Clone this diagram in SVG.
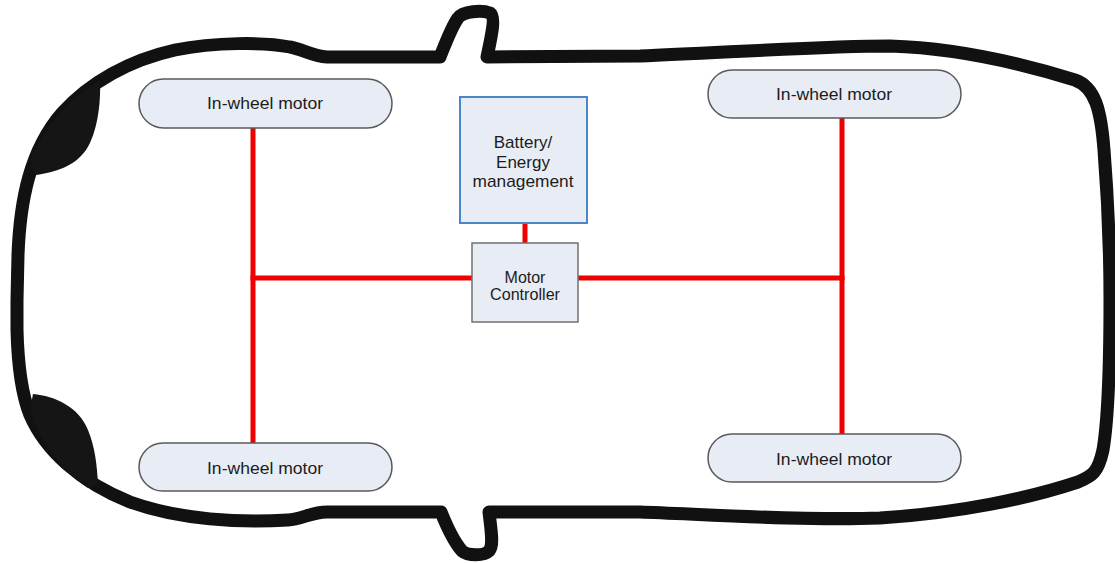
<svg xmlns="http://www.w3.org/2000/svg" width="1115" height="563" viewBox="0 0 1115 563">
  <style>
    .body { fill: none; stroke: #111; stroke-width: 13; stroke-linejoin: round; stroke-linecap: round; }
    .wheel { fill: #151515; }
    .pill { fill: #e8ecf5; stroke: #595959; stroke-width: 1.5; }
    .battery { fill: #e8ecf5; stroke: #4a86c8; stroke-width: 2; }
    .ctrl { fill: #e8ecf4; stroke: #707070; stroke-width: 1.5; }
    .lbl { font-family: "Liberation Sans", Arial, sans-serif; font-size: 17px; fill: #1c1c1c; text-anchor: middle; }
    .small { font-size: 16px; }
    .wire { stroke: #ee0000; stroke-width: 5; fill: none; }
  </style>
  <rect width="1115" height="563" fill="#fff"/>

  <!-- car body, seen from above -->
  <g id="car-body">
    <path class="body" d="M 17,300 L 18,255 C 20,200 30,150 62,113 C 90,82 130,60 175,50 C 215,42 265,42 290,47 C 302,49 312,56 327,57 L 440,57 C 446,42 452,26 458,18 C 463,11 482,10 490,13 C 496,17 491,38 487,57 L 640,56 C 720,53 820,46 890,46 C 960,48 1030,66 1075,80 C 1095,87 1101,110 1104,150 C 1108,200 1110,250 1110,300 C 1110,360 1108,420 1103,450 C 1098,473 1092,476 1078,482 C 1030,498 960,513 880,518 C 800,521 700,514 640,512 L 489,512 C 491,530 494,545 489,551 C 484,556 468,556 462,551 C 455,543 447,527 441,512 L 327,512 C 312,512 302,519 288,520 C 240,523 180,520 130,502 C 80,482 45,450 30,415 C 22,395 18,370 17,330 Z"/>
    <!-- front and rear wheel arches -->
    <path class="wheel" d="M 100,80 C 101,105 97,133 86,150 C 74,167 55,172 36,175 L 30,160 C 45,125 70,98 100,80 Z"/>
    <path class="wheel" d="M 33,394 C 55,396 79,407 88,430 C 95,447 97,465 98,484 L 88,488 C 60,470 40,440 30,410 Z"/>
  </g>

  <!-- power wiring -->
  <g id="connectors">
    <line class="wire" x1="253" y1="128" x2="253" y2="443"/>
    <line class="wire" x1="842" y1="118" x2="842" y2="434"/>
    <line class="wire" x1="250.5" y1="278" x2="472" y2="278"/>
    <line class="wire" x1="578" y1="278" x2="844.5" y2="278"/>
    <line class="wire" x1="525" y1="223" x2="525" y2="243"/>
  </g>

  <g id="motor-front-left">
    <rect class="pill" x="139" y="79" width="253" height="49" rx="24.5"/>
    <text class="lbl" x="265" y="108.5" textLength="116" lengthAdjust="spacingAndGlyphs">In-wheel motor</text>
  </g>
  <g id="motor-rear-left">
    <rect class="pill" x="139" y="443" width="253" height="48" rx="24"/>
    <text class="lbl" x="265" y="473.5" textLength="116" lengthAdjust="spacingAndGlyphs">In-wheel motor</text>
  </g>
  <g id="motor-front-right">
    <rect class="pill" x="708" y="70" width="253" height="48" rx="24"/>
    <text class="lbl" x="834" y="99.5" textLength="116" lengthAdjust="spacingAndGlyphs">In-wheel motor</text>
  </g>
  <g id="motor-rear-right">
    <rect class="pill" x="708" y="434" width="253" height="48" rx="24"/>
    <text class="lbl" x="834" y="464.5" textLength="116" lengthAdjust="spacingAndGlyphs">In-wheel motor</text>
  </g>

  <g id="battery">
    <rect class="battery" x="460" y="97" width="127" height="126"/>
    <text class="lbl" x="523" y="148">Battery/</text>
    <text class="lbl" x="523" y="167.5">Energy</text>
    <text class="lbl" x="523" y="187" textLength="101" lengthAdjust="spacingAndGlyphs">management</text>
  </g>

  <g id="motor-controller">
    <rect class="ctrl" x="472" y="243" width="106" height="79"/>
    <text class="lbl small" x="525" y="282.5">Motor</text>
    <text class="lbl small" x="525" y="300" textLength="70" lengthAdjust="spacingAndGlyphs">Controller</text>
  </g>
</svg>
